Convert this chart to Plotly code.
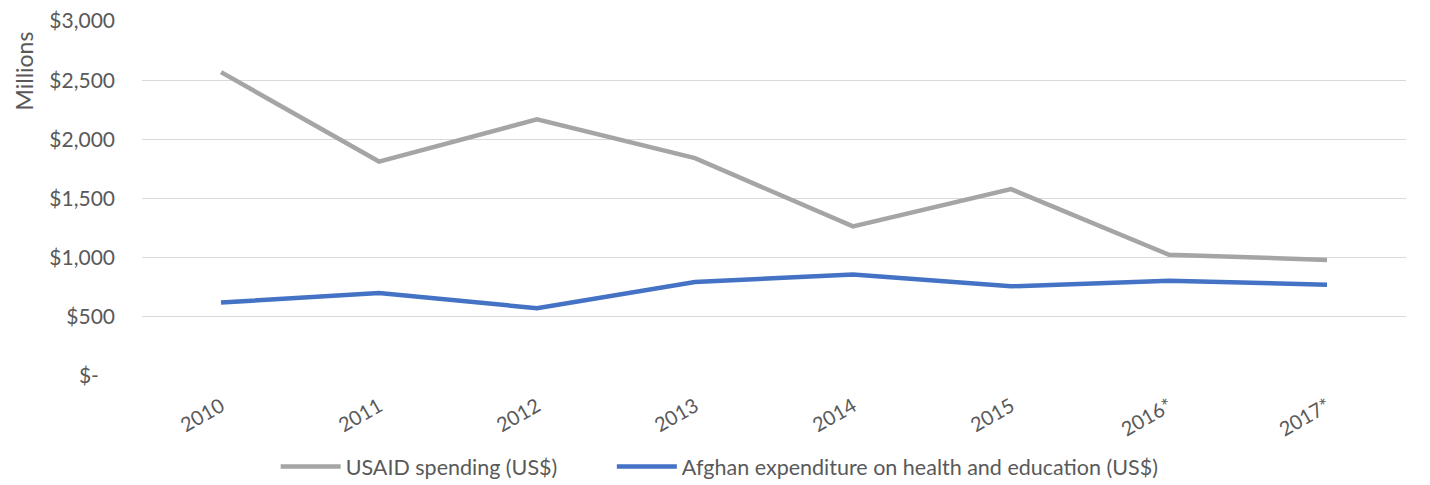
import plotly.graph_objects as go

# Data (US$ millions)
years = ["2010", "2011", "2012", "2013", "2014", "2015", "2016*", "2017*"]
usaid_spending = [2568, 1812, 2169, 1841, 1264, 1579, 1025, 981]
afghan_spending = [621, 702, 573, 795, 857, 758, 804, 772]

y_ticks = [0, 500, 1000, 1500, 2000, 2500, 3000]
y_tick_labels = ["$-\u00a0\u00a0\u00a0", "$500", "$1,000", "$1,500", "$2,000", "$2,500", "$3,000"]

FONT = "Lato, 'Open Sans', sans-serif"
TEXT_GREY = "#595959"
GAP = "\u00a0" * 9  # extra room between the two legend entries

fig = go.Figure()
fig.add_trace(go.Scatter(
    x=years, y=usaid_spending, mode="lines", name="USAID spending (US$)" + GAP,
    line=dict(color="#A5A5A5", width=4.5),
))
fig.add_trace(go.Scatter(
    x=years, y=afghan_spending, mode="lines",
    name="Afghan expenditure on health and education (US$)",
    line=dict(color="#4472C4", width=4.5),
))

# the page body adds an 8px offset, margins are set with that in mind
fig.update_layout(
    width=1430, height=485,
    margin=dict(l=134, r=32, t=13, b=117, autoexpand=False),
    paper_bgcolor="white", plot_bgcolor="white",
    font=dict(family=FONT, size=20, color=TEXT_GREY),
    showlegend=True,
    legend=dict(orientation="h", x=0.457, xanchor="center", y=-0.255, yanchor="middle",
                font=dict(size=21.5, color=TEXT_GREY), itemwidth=60,
                traceorder="normal"),
    annotations=[dict(
        text="Millions", textangle=-90, xref="paper", yref="paper",
        x=0, y=1.0, xanchor="center", yanchor="top", showarrow=False,
        font=dict(size=23, color=TEXT_GREY),
        xshift=-119, yshift=-9,
    )],
)
fig.update_xaxes(
    type="category", range=[-0.5, 7.5], showgrid=False, showline=False,
    ticks="", tickangle=-30, tickfont=dict(size=20, color=TEXT_GREY),
    ticklabelstandoff=14, automargin=False,
)
fig.update_yaxes(
    range=[0, 3000], tickvals=y_ticks, ticktext=y_tick_labels,
    showgrid=True, gridcolor="#D9D9D9", gridwidth=1.3, zeroline=False,
    showline=False, ticks="", ticklabelstandoff=26, automargin=False,
    ticklabeloverflow="allow",
    tickfont=dict(size=21, color=TEXT_GREY),
)

fig.write_html("out.html")
